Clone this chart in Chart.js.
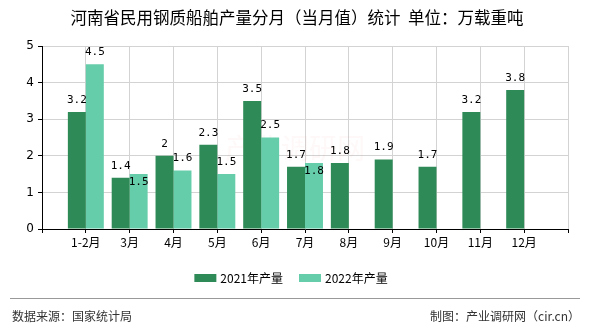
<!DOCTYPE html>
<html>
<head>
<meta charset="utf-8">
<script src="https://cdn.jsdelivr.net/npm/chart.js@4"></script>
<style>
  html, body { margin: 0; padding: 0; background: #fff; }
</style>
</head>
<body>
<canvas id="chart" width="590" height="330"></canvas>
<script>
const months = ["1-2月", "3月", "4月", "5月", "6月", "7月", "8月", "9月", "10月", "11月", "12月"];
const output2021 = [3.2, 1.4, 2, 2.3, 3.5, 1.7, 1.8, 1.9, 1.7, 3.2, 3.8];
const output2022 = [4.5, 1.5, 1.6, 1.5, 2.5, 1.8, null, null, null, null, null];
const seriesNames = ["2021年产量", "2022年产量"];
const yMin = 0, yMax = 5, yStep = 1;

const titleText = "河南省民用钢质船舶产量分月（当月值）统计  单位：万载重吨";
const sourceText = "数据来源：国家统计局";
const creditText = "制图：产业调研网（cir.cn）";

const CJK = '"Noto Sans CJK SC", "Noto Sans", sans-serif';

// one empty slot at each end so the months sit on the grid lines
const labels = ["", ...months, ""];
const pad = (arr) => [null, ...arr, null];

// value labels above each bar; a few 2022 ones sit just inside the bar top
const barLabels = {
  id: "barLabels",
  afterDatasetsDraw(chart, args, opts) {
    const ctx = chart.ctx;
    ctx.save();
    ctx.font = '11px "DejaVu Sans Mono", monospace';
    ctx.fillStyle = "#000";
    ctx.textAlign = "center";
    ctx.textBaseline = "middle";
    chart.data.datasets.forEach((ds, di) => {
      const inside = opts.inside[di] || [];
      chart.getDatasetMeta(di).data.forEach((bar, i) => {
        const v = ds.data[i];
        if (v == null) return;
        const dy = inside.includes(chart.data.labels[i]) ? 8 : -12;
        ctx.fillText(String(v), bar.x, bar.y + dy);
      });
    });
    ctx.restore();
  }
};

// title, watermark, legend and footer
const decor = {
  id: "decor",
  beforeDatasetsDraw(chart) {
    const ctx = chart.ctx;
    ctx.save();
    ctx.font = "28px " + CJK;
    ctx.fillStyle = "rgba(235, 120, 120, 0.05)";
    ctx.textAlign = "center";
    ctx.textBaseline = "middle";
    ctx.fillText("产业调研网", 295, 148);
    ctx.restore();
  },
  afterDraw(chart) {
    const ctx = chart.ctx;
    ctx.save();

    ctx.font = "16.5px " + CJK;
    ctx.fillStyle = "#000";
    ctx.textAlign = "center";
    ctx.textBaseline = "middle";
    ctx.fillText(titleText, 297, 18);

    // legend
    ctx.font = "12px " + CJK;
    ctx.textAlign = "left";
    const boxW = 22, boxH = 8, gap = 4, itemGap = 16;
    const items = chart.data.datasets.map(ds => ({
      label: ds.label, color: ds.backgroundColor, w: ctx.measureText(ds.label).width
    }));
    const total = items.reduce((s, it) => s + boxW + gap + it.w, 0) + itemGap * (items.length - 1);
    let x = 291 - total / 2;
    const ly = 278;
    items.forEach(it => {
      ctx.fillStyle = it.color;
      ctx.fillRect(x, ly - boxH / 2, boxW, boxH);
      ctx.fillStyle = "#000";
      ctx.fillText(it.label, x + boxW + gap, ly);
      x += boxW + gap + it.w + itemGap;
    });

    // footer
    ctx.strokeStyle = "#999";
    ctx.lineWidth = 1;
    ctx.beginPath();
    ctx.moveTo(10, 298.5);
    ctx.lineTo(580, 298.5);
    ctx.stroke();

    ctx.fillStyle = "#333";
    ctx.font = "12px " + CJK;
    ctx.textAlign = "left";
    ctx.fillText(sourceText, 12, 316);
    ctx.textAlign = "right";
    ctx.fillText(creditText, 580, 316);

    ctx.restore();
  }
};

new Chart(document.getElementById("chart"), {
  type: "bar",
  data: {
    labels: labels,
    datasets: [
      { label: seriesNames[0], data: pad(output2021), backgroundColor: "#2e8b57" },
      { label: seriesNames[1], data: pad(output2022), backgroundColor: "#66cdaa" }
    ]
  },
  options: {
    responsive: false,
    animation: false,
    devicePixelRatio: 1,
    layout: { padding: { top: 46, right: 22, bottom: 81, left: 0 } },
    datasets: { bar: { categoryPercentage: 0.82, barPercentage: 1.0 } },
    plugins: {
      legend: { display: false },
      title: { display: false },
      tooltip: { enabled: false },
      barLabels: { inside: { 1: ["3月", "7月"] } }
    },
    scales: {
      x: {
        offset: false,
        afterFit(scale) { scale.height = 20; },
        grid: { offset: false, color: "#d3d3d3", tickColor: "#000", tickLength: 4 },
        border: { color: "#000" },
        ticks: { color: "#000", font: { size: 12, family: CJK }, autoSkip: false, maxRotation: 0, padding: 2 }
      },
      y: {
        min: yMin,
        max: yMax,
        afterFit(scale) { scale.width = 42; },
        grid: { color: "#d3d3d3", tickColor: "#000", tickLength: 4 },
        border: { color: "#000" },
        ticks: { stepSize: yStep, color: "#000", font: { size: 12, family: '"DejaVu Sans", sans-serif' }, padding: 4 }
      }
    }
  },
  plugins: [barLabels, decor]
});
</script>
</body>
</html>
